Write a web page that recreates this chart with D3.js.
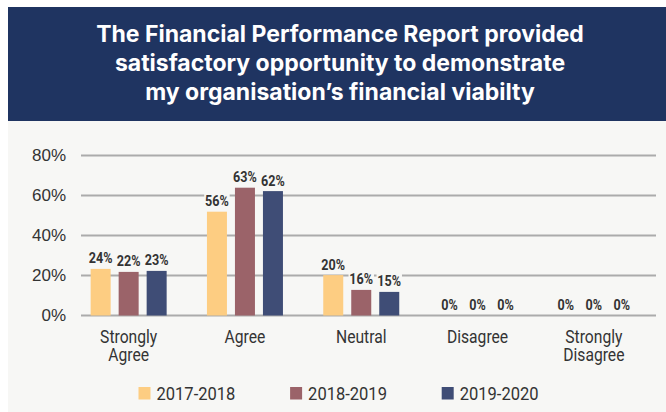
<!DOCTYPE html>
<html>
<head>
<meta charset="utf-8">
<script src="https://cdn.jsdelivr.net/npm/d3@7"></script>
<style>
  html, body { margin: 0; padding: 0; background: #ffffff; }
  svg { display: block; }
</style>
</head>
<body>
<svg id="chart" width="666" height="412"></svg>
<script>
// ---- data ----
const titleLines = [
  "The Financial Performance Report provided",
  "satisfactory opportunity to demonstrate",
  "my organisation\u2019s financial viabilty"
];
const categories = ["Strongly Agree", "Agree", "Neutral", "Disagree", "Strongly Disagree"];
const seriesNames = ["2017-2018", "2018-2019", "2019-2020"];
const values2017 = [23.3, 51.9, 20.2, 0, 0];
const values2018 = [21.8, 63.9, 12.8, 0, 0];
const values2019 = [22.3, 62.2, 11.8, 0, 0];
const labels2017 = ["24%", "56%", "20%", "0%", "0%"];
const labels2018 = ["22%", "63%", "16%", "0%", "0%"];
const labels2019 = ["23%", "62%", "15%", "0%", "0%"];
const yTicks = [0, 20, 40, 60, 80];
const colors = ["#fdcd82", "#9b6369", "#3f4d76"];

const series = [
  { name: seriesNames[0], values: values2017, labels: labels2017, color: colors[0] },
  { name: seriesNames[1], values: values2018, labels: labels2018, color: colors[1] },
  { name: seriesNames[2], values: values2019, labels: labels2019, color: colors[2] }
];

const cond = "Roboto, 'Liberation Sans', sans-serif";
const svg = d3.select("#chart");

// backgrounds
svg.append("rect").attr("x", 8).attr("y", 7).attr("width", 658).attr("height", 405).attr("fill", "#f7f7f5");
svg.append("rect").attr("x", 8).attr("y", 7).attr("width", 658).attr("height", 114).attr("fill", "#1f3461");

// title
svg.append("g").selectAll("text").data(titleLines).join("text")
  .attr("x", 340).attr("y", (d, i) => 42 + i * 29)
  .attr("text-anchor", "middle")
  .attr("fill", "#ffffff")
  .style("font-family", "Inter, 'Open Sans', sans-serif")
  .style("font-weight", 700)
  .style("font-size", "23px")
  .text(d => d);

// scales
const y = d3.scaleLinear().domain([0, 80]).range([315.5, 155.5]);
const x = d3.scaleBand().domain(categories).range([70.5, 652]);
const xs = d3.scaleBand().domain(seriesNames).range([-38, 38]).paddingInner(8 / 28).paddingOuter(0);

// y axis labels
const yAxis = d3.axisLeft(y).tickValues(yTicks).tickFormat(d => d + "%").tickSize(0).tickPadding(0);
const gAxis = svg.append("g").attr("transform", "translate(66,0)").call(yAxis);
gAxis.select(".domain").remove();
gAxis.selectAll("text")
  .attr("fill", "#333333")
  .style("font-family", "'Liberation Sans', Arial, sans-serif")
  .style("font-size", "17px");

// gridlines
svg.append("g").selectAll("line").data(yTicks).join("line")
  .attr("x1", 81).attr("x2", 656)
  .attr("y1", d => y(d)).attr("y2", d => y(d))
  .attr("stroke", "#ababab").attr("stroke-width", 2);

// bars
svg.append("g").selectAll("g").data(series).join("g")
  .selectAll("rect").data(s => s.values.map((v, i) => ({ v, cat: categories[i], s })))
  .join("rect")
  .attr("x", d => x(d.cat) + x.bandwidth() / 2 + xs(d.s.name))
  .attr("width", xs.bandwidth())
  .attr("y", d => y(d.v))
  .attr("height", d => y(0) - y(d.v))
  .attr("fill", d => d.s.color);

// value labels
const labelData = [];
series.forEach(s => s.values.forEach((v, i) => labelData.push({ v, cat: categories[i], s, label: s.labels[i] })));
const lbl = svg.append("g").selectAll("g").data(labelData).join("g")
  .attr("transform", d => `translate(${x(d.cat) + x.bandwidth() / 2 + xs(d.s.name) + xs.bandwidth() / 2},${y(d.v) - 5.5}) scale(0.84,1)`);
lbl.append("text")
  .attr("text-anchor", "middle")
  .attr("fill", "#333333")
  .style("font-family", cond)
  .style("font-weight", 700)
  .style("font-size", "15px")
  .text(d => d.label);
lbl.each(function () {
  const t = d3.select(this).select("text");
  const bb = t.node().getBBox();
  d3.select(this).insert("rect", "text")
    .attr("x", bb.x - 1).attr("y", bb.y + 1)
    .attr("width", bb.width + 2).attr("height", bb.height - 1)
    .attr("fill", "#f7f7f5");
});

// category labels
const cat = svg.append("g").selectAll("g").data(categories).join("g")
  .attr("transform", d => `translate(${x(d) + x.bandwidth() / 2},343) scale(0.87,1)`);
cat.append("text")
  .attr("text-anchor", "middle")
  .attr("fill", "#333333")
  .style("font-family", cond)
  .style("font-size", "18px")
  .each(function (d) {
    const t = d3.select(this);
    d.split(" ").forEach((w, i) => {
      t.append("tspan").attr("x", 0).attr("dy", i === 0 ? 0 : 18.5).text(w);
    });
  });

// legend
const legend = svg.append("g").selectAll("g").data(series).join("g")
  .attr("transform", (d, i) => `translate(${138.5 + i * 151.6},387)`);
legend.append("rect").attr("width", 12).attr("height", 12.5).attr("fill", d => d.color);
legend.append("text")
  .attr("transform", "translate(18,13.2) scale(0.87,1)")
  .attr("fill", "#333333")
  .style("font-family", cond)
  .style("font-size", "19px")
  .text(d => d.name);
</script>
</body>
</html>
